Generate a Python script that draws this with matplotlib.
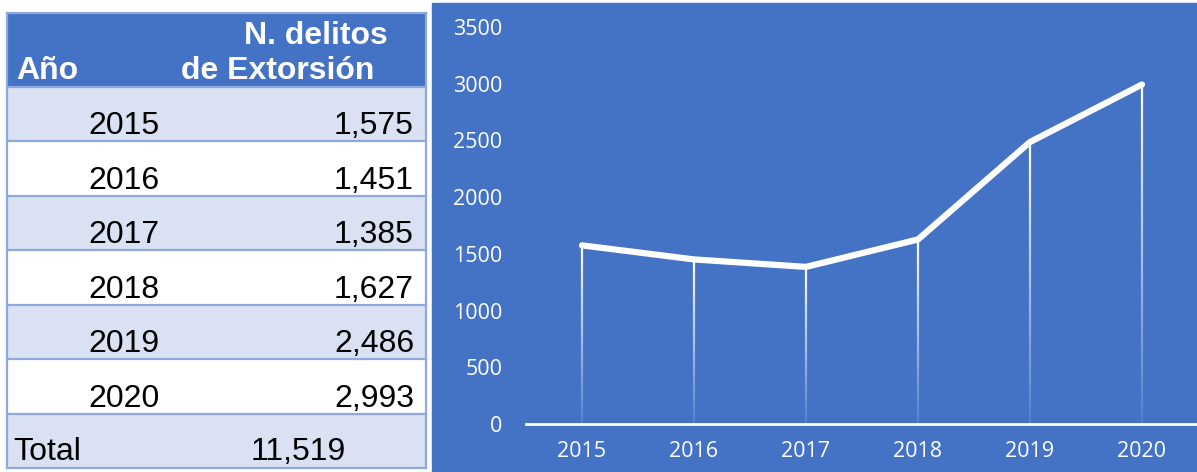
import matplotlib.pyplot as plt
import numpy as np
from matplotlib.patches import Rectangle
from matplotlib.collections import LineCollection

years = ['2015', '2016', '2017', '2018', '2019', '2020']
delitos = [1575, 1451, 1385, 1627, 2486, 2993]
total_label = 'Total'
total_value = 11519
head_year = 'Año'
head_value = ['N. delitos', 'de Extorsión']

W, H = 1197, 472
blue = '#4472C4'
light = '#D9E1F2'
border = '#8EA9DB'

fig = plt.figure(figsize=(W / 100, H / 100), dpi=100)
fig.patch.set_facecolor('white')

# pixel-space axes for the table and the panel background
bg = fig.add_axes([0, 0, 1, 1])
bg.set_xlim(0, W)
bg.set_ylim(H, 0)
bg.axis('off')

bg.add_patch(Rectangle((432, 3), W - 432, H - 3, color=blue, zorder=0))

# table
tx0, tx1 = 7, 426
row_edges = [13, 87, 141, 196, 250, 305, 359, 414, 468]
bg.add_patch(Rectangle((tx0, row_edges[0]), tx1 - tx0, row_edges[1] - row_edges[0],
                       facecolor=blue, edgecolor='none', zorder=1))
for i in range(len(years) + 1):
    y0, y1 = row_edges[i + 1], row_edges[i + 2]
    fc = light if i % 2 == 0 else 'white'
    bg.add_patch(Rectangle((tx0, y0), tx1 - tx0, y1 - y0, facecolor=fc,
                           edgecolor='none', zorder=1))
for y in row_edges:
    bg.plot([tx0, tx1], [y, y], color=border, lw=1.6, zorder=2)
bg.plot([tx0, tx0], [row_edges[0], row_edges[-1]], color=border, lw=1.6, zorder=2)
bg.plot([tx1, tx1], [row_edges[0], row_edges[-1]], color=border, lw=1.6, zorder=2)

tfont = dict(family='Liberation Sans', fontsize=23, zorder=3)
bg.text(16, 79, head_year, color='white', fontweight='bold', ha='left', va='baseline', **tfont)
bg.text(388, 44, head_value[0], color='white', fontweight='bold', ha='right', va='baseline', **tfont)
bg.text(374, 79, head_value[1], color='white', fontweight='bold', ha='right', va='baseline', **tfont)

for i, (yr, v) in enumerate(zip(years, delitos)):
    base = row_edges[i + 2] - 7
    bg.text(160, base, yr, color='black', ha='right', va='baseline', **tfont)
    bg.text(414, base, f'{v:,}', color='black', ha='right', va='baseline', **tfont)
bg.text(13, 460, total_label, color='black', ha='left', va='baseline', **tfont)
bg.text(346, 460, f'{total_value:,}', color='black', ha='right', va='baseline', **tfont)

# line chart
ax = fig.add_axes([526 / W, (H - 424) / H, 672 / W, (424 - 27) / H])
ax.set_facecolor('none')
x = np.arange(len(years))
ax.set_xlim(-0.5, len(years) - 0.5)
ax.set_ylim(0, 3500)

# drop lines fading towards the axis
for xi, v in zip(x, delitos):
    ys = np.linspace(0, v, 40)
    segs = [[(xi, ys[k]), (xi, ys[k + 1])] for k in range(len(ys) - 1)]
    alphas = np.linspace(0.1, 1.0, len(segs))
    cols = [(1, 1, 1, a) for a in alphas]
    ax.add_collection(LineCollection(segs, colors=cols, linewidths=1.6, zorder=2))

ax.plot(x, delitos, color='white', lw=4.5, solid_capstyle='round',
        solid_joinstyle='round', zorder=3)

ax.set_xticks(x)
ax.set_xticklabels(years)
ax.set_yticks(np.arange(0, 3501, 500))
for s in ['top', 'right', 'left']:
    ax.spines[s].set_visible(False)
ax.spines['bottom'].set_color('white')
ax.spines['bottom'].set_linewidth(2)
ax.tick_params(axis='x', length=0, pad=12, labelsize=15.5, colors='white')
ax.tick_params(axis='y', length=0, pad=17, labelsize=15.5, colors='white')
for lab in ax.get_xticklabels() + ax.get_yticklabels():
    lab.set_family('Open Sans')

plt.savefig('out.png', dpi=100, facecolor=fig.get_facecolor())
